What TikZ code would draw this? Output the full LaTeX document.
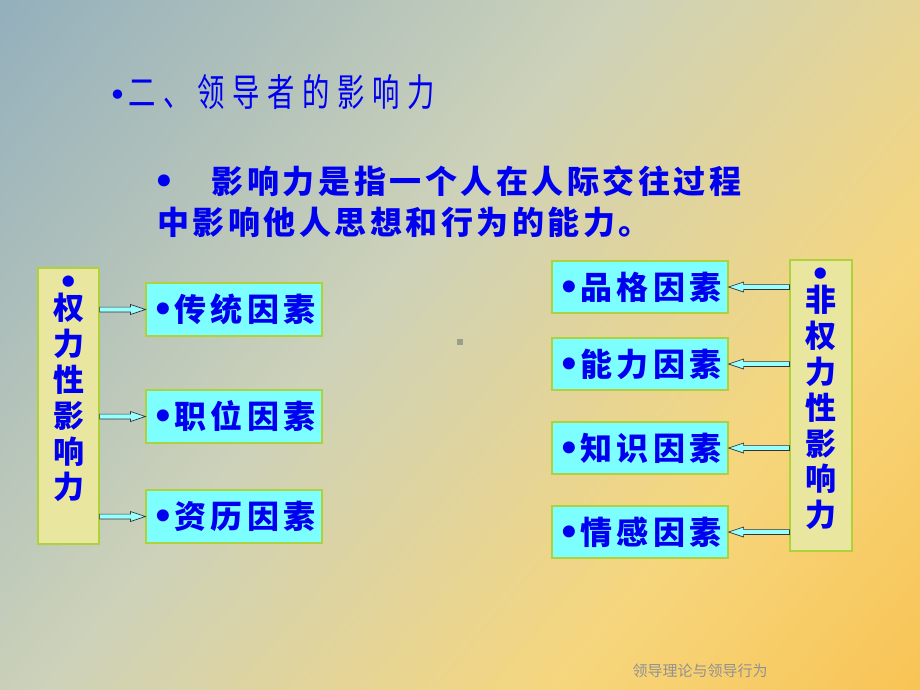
\documentclass[tikz,border=0pt]{standalone}
\usepackage{fontspec}
\newfontfamily\cjk{Noto Sans CJK SC}
\newfontfamily\dotfont{DejaVu Sans}
\usetikzlibrary{calc}

\definecolor{textblue}{RGB}{0,0,240}
\definecolor{boxcyan}{RGB}{125,255,255}
\definecolor{boxyellow}{RGB}{233,230,160}
\definecolor{boxedge}{RGB}{175,210,60}
\definecolor{arrowcyan}{RGB}{150,255,255}
\definecolor{footgray}{RGB}{145,145,145}
\definecolor{bgA}{RGB}{118,158,190}
\definecolor{bgB}{RGB}{205,210,185}
\definecolor{bgC}{RGB}{246,214,125}
\definecolor{bgD}{RGB}{250,180,50}
\pgfdeclarehorizontalshading{slidebg}{100bp}{color(0bp)=(bgA); color(44bp)=(bgB); color(68bp)=(bgC); color(100bp)=(bgD)}

% bullet in a given size
\newcommand{\dotb}[1]{{\dotfont\fontsize{#1}{#1}\selectfont•}}

\tikzset{
	titletext/.style={text=textblue, inner sep=0pt, font=\cjk\fontsize{38}{40}\selectfont\addfontfeatures{LetterSpace=20,FakeStretch=0.72}},
	introtext/.style={text=textblue, inner sep=0pt, font=\cjk\bfseries\fontsize{32}{36}\selectfont\addfontfeatures{LetterSpace=11}},
	tallbox/.style={draw=boxedge, fill=boxyellow, line width=1.2pt, minimum width=61pt, inner sep=0pt},
	talltext/.style={text=textblue, inner sep=0pt, align=center, font=\cjk\bfseries\fontsize{31}{35.8}\selectfont},
	factor/.style={draw=boxedge, fill=boxcyan, line width=1.2pt, minimum width=176pt, minimum height=53pt, inner sep=0pt,
		text=textblue, font=\cjk\bfseries\fontsize{32}{36}\selectfont\addfontfeatures{LetterSpace=14}},
	blockarrow/.style={draw=black!80, fill=arrowcyan, line width=0.7pt,
		to path={let \p1=(\tikztostart), \p2=(\tikztotarget), \n1={sign(\x2-\x1)} in
			({\x1},{\y1+2.4pt}) -- ({\x2-(\n1)*15pt},{\y1+2.4pt}) -- ({\x2-(\n1)*15pt},{\y1+5pt})
			-- ({\x2},{\y1}) -- ({\x2-(\n1)*15pt},{\y1-5pt}) -- ({\x2-(\n1)*15pt},{\y1-2.4pt})
			-- ({\x1},{\y1-2.4pt}) -- cycle}},
	foot/.style={text=footgray, inner sep=0pt, font=\cjk\fontsize{15}{17}\selectfont}
}

\begin{document}
\begin{tikzpicture}[x=1pt, y=-1pt]
	% background
	\shade[shading=slidebg, shading angle=-40] (0,0) rectangle (920,690);
	\useasboundingbox (0,0) rectangle (920,690);
	\fill[black!25!bgB] (457,339) rectangle (463,345);

	% heading and definition
	\node[titletext, anchor=west] (title) at (108,92) {\dotb{32}\hspace{1pt}二、领导者的影响力};
	\node[introtext, anchor=west] (intro1) at (153,181) {\dotb{34}\hspace{37pt}影响力是指一个人在人际交往过程};
	\node[introtext, anchor=west] (intro2) at (157,222) {中影响他人思想和行为的能力。};

	% power influence
	\node[tallbox, minimum height=276pt] (quan) at (68.5,406) {};
	\node[talltext, anchor=north] (quantext) at ([yshift=-8pt]quan.north) {\dotb{32}\\[-9pt]权\\力\\性\\影\\响\\力};

	\node[factor] (chuan) at (234,309.5) {\dotb{34}传统因素};
	\node[factor] (zhi) at (234,416.5) {\dotb{34}职位因素};
	\node[factor] (zi) at (234,516.5) {\dotb{34}资历因素};

	\draw[blockarrow] (quan.east |- chuan.west) to (chuan.west);
	\draw[blockarrow] (quan.east |- zhi.west) to (zhi.west);
	\draw[blockarrow] (quan.east |- zi.west) to (zi.west);

	% non-power influence
	\node[tallbox, minimum width=62pt, minimum height=291pt] (fei) at (821,405.5) {};
	\node[talltext, anchor=north] (feitext) at ([yshift=-8pt]fei.north) {\dotb{32}\\[-9pt]非\\权\\力\\性\\影\\响\\力};

	\node[factor, minimum height=52pt] (pin) at (640,287) {\dotb{34}品格因素};
	\node[factor, minimum height=52pt] (neng) at (640,364) {\dotb{34}能力因素};
	\node[factor, minimum height=52pt] (zhishi) at (640,448) {\dotb{34}知识因素};
	\node[factor, minimum height=52pt] (qing) at (640,532) {\dotb{34}情感因素};

	\draw[blockarrow] (fei.west |- pin.east) to (pin.east);
	\draw[blockarrow] (fei.west |- neng.east) to (neng.east);
	\draw[blockarrow] (fei.west |- zhishi.east) to (zhishi.east);
	\draw[blockarrow] (fei.west |- qing.east) to (qing.east);

	\node[foot] (footer) at (700,671) {领导理论与领导行为};
\end{tikzpicture}
\end{document}
